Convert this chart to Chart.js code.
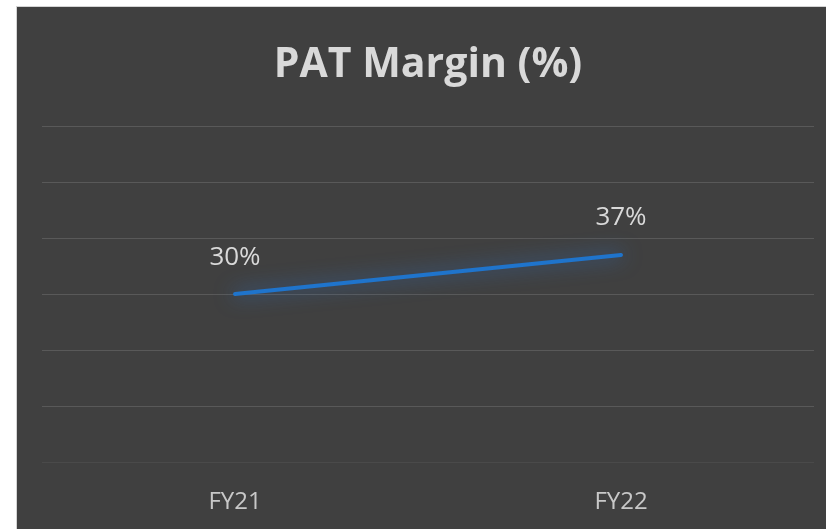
<!DOCTYPE html>
<html>
<head>
<meta charset="utf-8">
<script src="https://cdn.jsdelivr.net/npm/chart.js@4"></script>
<style>
html,body{margin:0;padding:0;background:#ffffff;width:826px;height:529px;overflow:hidden;}
#wrap{position:absolute;left:16px;top:6px;width:810px;height:523px;background:#404040;border-left:1px solid #d4d4d4;border-top:1px solid #d4d4d4;box-sizing:border-box;}
canvas{display:block;}
</style>
</head>
<body>
<div id="wrap"><canvas id="c" width="809" height="522"></canvas></div>
<script>
const categories = ["FY21", "FY22"];
const patMargin = [30, 37];
const labelText = ["30%", "37%"];
const titleText = "PAT Margin (%)";
const yMin = 0, yMax = 60, yStep = 10;

const FONT = "'Open Sans', 'Noto Sans', sans-serif";

const glowPlugin = {
  id: 'glow',
  beforeDatasetDraw(chart) {
    const ctx = chart.ctx;
    ctx.save();
    ctx.shadowColor = 'rgba(45,125,225,0.75)';
    ctx.shadowBlur = 20;
  },
  afterDatasetDraw(chart) {
    chart.ctx.restore();
  }
};

const labelPlugin = {
  id: 'pointLabels',
  afterDatasetsDraw(chart) {
    const ctx = chart.ctx;
    const meta = chart.getDatasetMeta(0);
    ctx.save();
    ctx.fillStyle = '#d9d9d9';
    ctx.font = "26px " + FONT;
    ctx.textAlign = 'center';
    ctx.textBaseline = 'middle';
    meta.data.forEach((pt, i) => {
      ctx.fillText(labelText[i], pt.x, pt.y - 37);
    });
    ctx.restore();
  }
};

new Chart(document.getElementById('c'), {
  type: 'line',
  data: {
    labels: categories,
    datasets: [{
      data: patMargin,
      borderColor: '#1f74cc',
      borderWidth: 4,
      pointRadius: 0,
      pointHoverRadius: 0,
      tension: 0,
      fill: false,
      borderCapStyle: 'round'
    }]
  },
  options: {
    responsive: false,
    animation: false,
    devicePixelRatio: 1,
    layout: { padding: { left: 25, right: 12, top: 0, bottom: 7 } },
    plugins: {
      legend: { display: false },
      tooltip: { enabled: false },
      title: {
        display: true,
        text: titleText,
        color: '#d9d9d9',
        font: { family: FONT, size: 41, weight: 'bold' },
        padding: { top: 34, bottom: 36 }
      }
    },
    scales: {
      x: {
        offset: true,
        grid: { display: false },
        border: { display: false },
        ticks: {
          color: '#c8c8c8',
          font: { family: FONT, size: 24 },
          padding: 18,
          maxRotation: 0
        },
        afterFit: (scale) => { scale.height = 60; }
      },
      y: {
        min: yMin,
        max: yMax,
        ticks: { display: false, stepSize: yStep },
        border: { display: false },
        grid: {
          color: (c) => c.tick && c.tick.value === 0 ? '#4a4a4a' : '#595959',
          lineWidth: 1,
          drawTicks: false
        }
      }
    }
  },
  plugins: [glowPlugin, labelPlugin]
});
</script>
</body>
</html>
